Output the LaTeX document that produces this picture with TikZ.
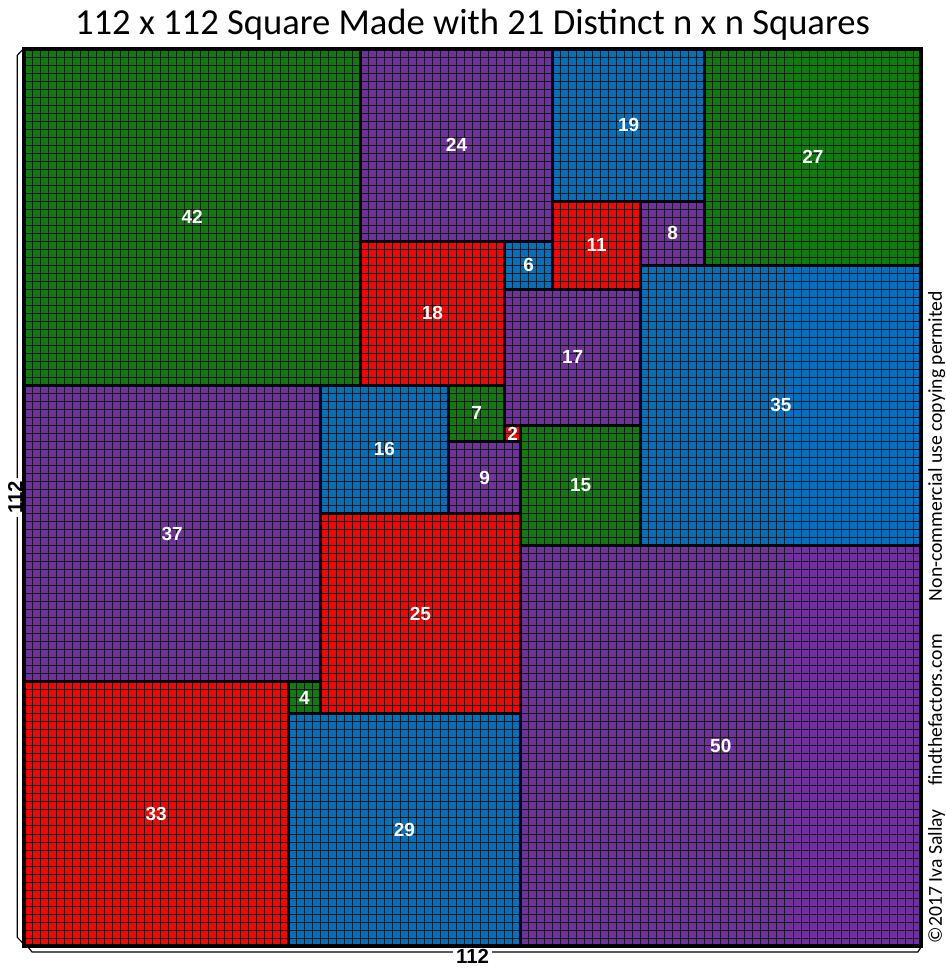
\documentclass[tikz,border=0pt]{standalone}
\usepackage{fontspec}
\setmainfont{Carlito}
\newfontfamily\numfont{Liberation Sans}

\definecolor{sqgreen}{RGB}{16,124,16}
\definecolor{sqpurple}{RGB}{112,48,160}
\definecolor{sqblue}{RGB}{0,112,192}
\definecolor{sqred}{RGB}{255,0,0}

\tikzset{
  cellgrid/.style={step=1,line width=0.55pt,black!90},
  sqedge/.style={line width=2pt,black},
  numlbl/.style={text=white,inner sep=0pt,
    font=\numfont\bfseries\fontsize{13.5}{14}\selectfont},
  dimline/.style={line width=0.8pt,black},
  dimlbl/.style={inner sep=2pt,font=\numfont\bfseries\fontsize{14.5}{15}\selectfont},
  credit/.style={rotate=90,anchor=base,inner sep=0pt,font=\fontsize{14}{15}\selectfont},
}

% size/left/bottom/colour
\def\squarelist{42/0/70/sqgreen,24/42/88/sqpurple,19/66/93/sqblue,
  27/85/85/sqgreen,18/42/70/sqred,6/60/82/sqblue,11/66/82/sqred,
  8/77/85/sqpurple,35/77/50/sqblue,17/60/65/sqpurple,37/0/33/sqpurple,
  16/37/54/sqblue,7/53/63/sqgreen,2/60/63/sqred,15/62/50/sqgreen,
  9/53/54/sqpurple,25/37/29/sqred,50/62/0/sqpurple,33/0/0/sqred,
  4/33/29/sqgreen,29/33/0/sqblue}

\begin{document}
\begin{tikzpicture}[x=2mm,y=2mm]
  \useasboundingbox (-3,-2.87) rectangle (115,118.12);

  \node[font=\fontsize{26}{30}\selectfont] (title) at (56,115)
    {112 x 112 Square Made with 21 Distinct n x n Squares};

  % fills, then the unit grid, then the square outlines
  \foreach \n/\x/\y/\c in \squarelist
    \fill[\c] (\x,\y) rectangle ++(\n,\n);
  \draw[cellgrid] (0,0) grid (112,112);
  \foreach \n/\x/\y/\c in \squarelist
    \draw[sqedge] (\x,\y) rectangle ++(\n,\n)
      node[numlbl] (sq\n) at (\x+\n/2,\y+\n/2) {\n};
  \draw[line width=1mm] (0,0) rectangle (112,112);

  % side lengths
  \coordinate (lt) at (-0.1,112);
  \coordinate (ltt) at (-0.85,111.2);
  \coordinate (lbb) at (-0.85,1.1);
  \coordinate (lb) at (0,0.2);
  \node[dimlbl,rotate=90] (height) at (-1.1,56) {112};
  \draw[dimline] (lt) -- (ltt) -- (ltt |- height.east);
  \draw[dimline] (lbb |- height.west) -- (lbb) -- (lb);

  \coordinate (bl) at (0.4,0);
  \coordinate (bll) at (1.0,-0.75);
  \coordinate (brr) at (111.6,-0.75);
  \coordinate (br) at (112.1,0);
  \node[dimlbl] (width) at (56,-1.25) {112};
  \draw[dimline] (bl) -- (bll) -- (width.west |- bll);
  \draw[dimline] (width.east |- brr) -- (brr) -- (br);

  \node[credit] (rights) at (114.6,62.4) {Non-commercial use copying permited};
  \node[credit] (site) at (114.6,29.5) {findthefactors.com};
  \node[credit] (author) at (114.6,8.7) {©2017 Iva Sallay};
\end{tikzpicture}
\end{document}
